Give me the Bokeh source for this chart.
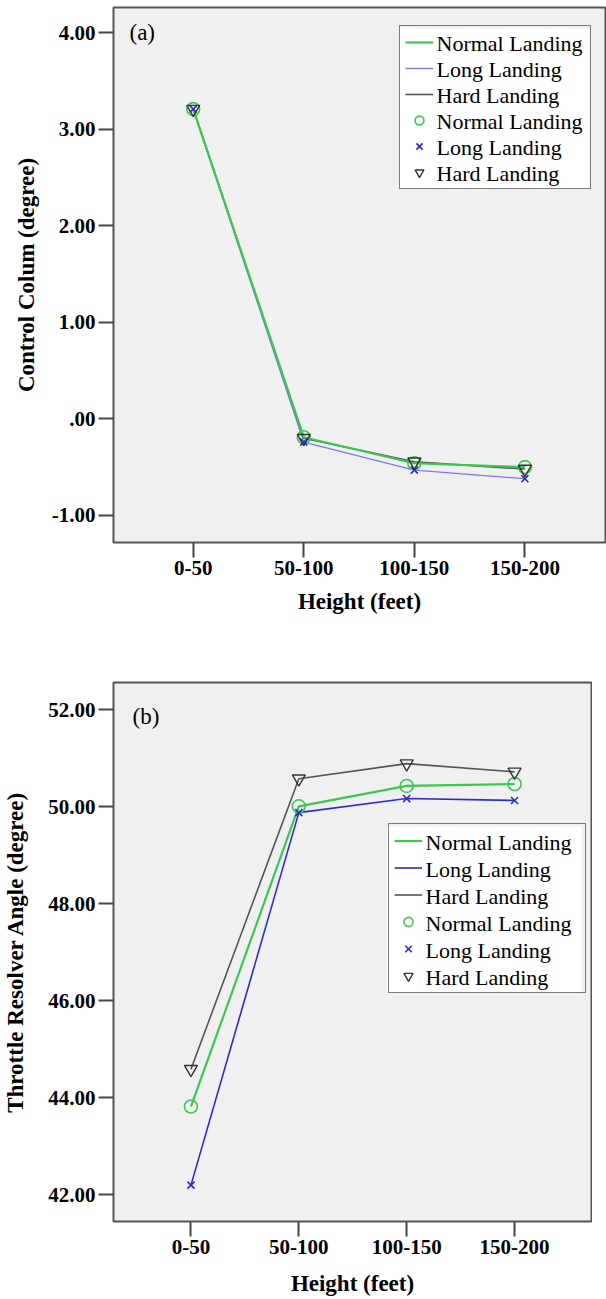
from bokeh.plotting import figure
from bokeh.models import (FixedTicker, Legend, LegendItem, Label, Range1d,
                          ColumnDataSource, BoxAnnotation)
from bokeh.layouts import column
from bokeh.embed import file_html
from bokeh.resources import INLINE

# ---------------- data ----------------
categories = ["0-50", "50-100", "100-150", "150-200"]
series_names = ["Normal Landing", "Long Landing", "Hard Landing"]

cc_normal = [3.21, -0.19, -0.46, -0.50]
cc_long = [3.21, -0.24, -0.53, -0.62]
cc_hard = [3.21, -0.20, -0.445, -0.52]
cc_ticks = [-1, 0, 1, 2, 3, 4]
cc_tick_labels = ["-1.00", ".00", "1.00", "2.00", "3.00", "4.00"]

tra_normal = [43.82, 50.01, 50.43, 50.47]
tra_long = [42.20, 49.88, 50.17, 50.13]
tra_hard = [44.59, 50.58, 50.89, 50.72]
tra_ticks = [42, 44, 46, 48, 50, 52]
tra_tick_labels = ["42.00", "44.00", "46.00", "48.00", "50.00", "52.00"]

SERIF = "Liberation Serif"
GREEN = "#3cc850"
GRAY = "#555555"


def make_panel(title_tag, ylab, vals, ticks, tick_labels, yr, xr, width, height,
               mb_left, mb_top, mb_bottom, blue_color, blue_width, legend_loc, tag_pos,
               row_h, label_w, ylab_standoff, xlab_standoff):
    p = figure(width=width, height=height, output_backend="svg", toolbar_location=None,
               x_range=Range1d(*xr), y_range=Range1d(*yr),
               min_border_left=mb_left, min_border_right=1,
               min_border_top=mb_top, min_border_bottom=mb_bottom)
    p.background_fill_color = "#f0f0f0"
    p.border_fill_color = "white"
    p.outline_line_color = "#555555"
    p.outline_line_width = 2
    p.grid.visible = False

    frame_w = width - mb_left - 1
    frame_h = height - mb_top - mb_bottom

    def xd(sx):
        return xr[0] + sx / frame_w * (xr[1] - xr[0])

    def yd(sy):
        return yr[0] + sy / frame_h * (yr[1] - yr[0])

    xs = list(range(1, len(categories) + 1))
    src = ColumnDataSource(dict(x=xs, normal=vals[0], long=vals[1], hard=vals[2]))

    pad, sp, gw, so = 5, 4, 28, 4
    vx, vy = legend_loc
    n = 6
    H = 2 * pad + n * row_h + (n - 1) * sp
    W = 2 * pad + gw + so + label_w + 2
    # white legend background
    p.add_layout(BoxAnnotation(left=xd(vx + 1), right=xd(vx + W), bottom=yd(vy + 1),
                               top=yd(vy + H - 1), fill_color="white", fill_alpha=1,
                               line_color=None))

    l_long = p.line("x", "long", source=src, line_color=blue_color, line_width=blue_width)
    l_hard = p.line("x", "hard", source=src, line_color=GRAY, line_width=1.6)
    l_norm = p.line("x", "normal", source=src, line_color=GREEN, line_width=2.2)
    m_norm = p.scatter("x", "normal", source=src, marker="circle", size=13,
                       line_color=GREEN, fill_color=None, line_width=1.6)
    m_long = p.scatter("x", "long", source=src, marker="x", size=10,
                       line_color="#2a2ad8", line_width=1.6)
    m_hard = p.scatter("x", "hard", source=src, marker="inverted_triangle", size=13,
                       line_color="#333333", fill_color=None, line_width=1.4)

    renderers = [l_norm, l_long, l_hard, m_norm, m_long, m_hard]
    labels = series_names + series_names
    # legend frame + glyphs by Bokeh; texts drawn as Labels (serif font)
    items = [LegendItem(label=" ", renderers=[r]) for r in renderers]
    leg = Legend(items=items, location=legend_loc)
    leg.label_text_font_size = "8px"
    leg.label_standoff = so
    leg.glyph_width = gw
    leg.glyph_height = row_h
    leg.label_height = row_h
    leg.label_width = label_w
    leg.spacing = sp
    leg.padding = pad
    leg.margin = 0
    leg.border_line_color = "black"
    leg.border_line_width = 1
    leg.background_fill_alpha = 0
    p.add_layout(leg, "center")

    for i, lab in enumerate(labels):
        yc = vy + H - pad - i * (row_h + sp) - row_h / 2.0
        p.add_layout(Label(x=vx + pad + gw + so, y=yc, x_units="screen", y_units="screen",
                           text=lab, text_font=SERIF, text_font_size="22px",
                           text_baseline="middle", text_color="black"))

    p.add_layout(Label(x=tag_pos[0], y=tag_pos[1], x_units="screen", y_units="screen",
                       text=title_tag, text_font=SERIF, text_font_size="23px",
                       text_baseline="middle", text_color="black"))

    for ax in (p.xaxis, p.yaxis):
        ax.axis_line_color = None
        ax.major_tick_line_color = "#444444"
        ax.major_tick_line_width = 2
        ax.major_tick_out = 15
        ax.major_tick_in = 0
        ax.minor_tick_line_color = None
        ax.major_label_text_font = SERIF
        ax.major_label_text_font_style = "bold"
        ax.major_label_text_font_size = "21px"
        ax.major_label_text_color = "black"
        ax.axis_label_text_font = SERIF
        ax.axis_label_text_font_style = "bold"
        ax.axis_label_text_font_size = "23px"
        ax.axis_label_text_color = "black"

    p.xaxis.ticker = FixedTicker(ticks=xs)
    p.xaxis.major_label_overrides = {x: c for x, c in zip(xs, categories)}
    p.xaxis.major_label_standoff = 3
    p.xaxis.axis_label = "Height (feet)"
    p.xaxis.axis_label_standoff = xlab_standoff

    p.yaxis.ticker = FixedTicker(ticks=ticks)
    p.yaxis.major_label_overrides = {t: s for t, s in zip(ticks, tick_labels)}
    p.yaxis.major_label_standoff = 3
    p.yaxis.axis_label = ylab
    p.yaxis.axis_label_standoff = ylab_standoff
    return p


p1 = make_panel("(a)", "Control Colum (degree)", [cc_normal, cc_long, cc_hard],
                cc_ticks, cc_tick_labels, (-1.281, 4.263), (0.279, 4.729),
                width=606, height=640, mb_left=111, mb_top=7, mb_bottom=98,
                blue_color="#7a7aee", blue_width=1.3, legend_loc=(286, 353),
                tag_pos=(16, 510), row_h=22, label_w=148,
                ylab_standoff=10, xlab_standoff=11)
p2 = make_panel("(b)", "Throttle Resolver Angle (degree)", [tra_normal, tra_long, tra_hard],
                tra_ticks, tra_tick_labels, (41.45, 52.563), (0.282, 4.713),
                width=592, height=659, mb_left=108, mb_top=42, mb_bottom=78,
                blue_color="#2b2bd0", blue_width=1.6, legend_loc=(275, 228),
                tag_pos=(19, 505), row_h=23, label_w=154,
                ylab_standoff=17, xlab_standoff=14)

layout = column(p1, p2, spacing=0)
open("out.html", "w").write(file_html(layout, INLINE))
